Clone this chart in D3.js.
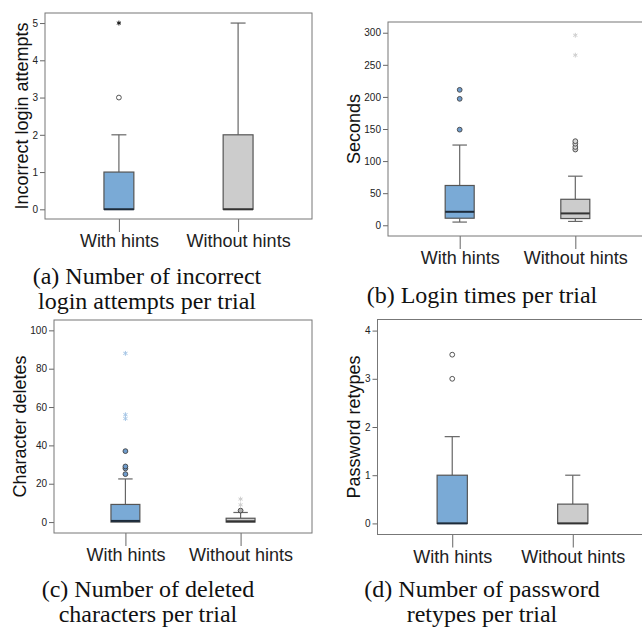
<!DOCTYPE html>
<html>
<head>
<meta charset="utf-8">
<script src="https://cdn.jsdelivr.net/npm/d3@7"></script>
<style>
  html, body { margin: 0; padding: 0; background: #fff; overflow: hidden; }
  svg { display: block; }
  .tick text { font-family: "Liberation Sans", Arial, sans-serif; fill: #222; }
  .caption { font-family: "Liberation Serif", "Times New Roman", serif; font-size: 24px; fill: #111; }
</style>
</head>
<body>
<svg id="fig" width="642" height="629"></svg>
<script>
// Boxplots of login behaviour, with vs. without hints (four panels)

const categories = ["With hints", "Without hints"]

// box stats per group: [lower whisker, q1, median, q3, upper whisker]
const attemptsBoxes = [[0, 0, 0, 1, 2], [0, 0, 0, 2, 5]]
const attemptsOutliers = [[3], []]
const attemptsExtremes = [[5], []]
const attemptsTicks = [0, 1, 2, 3, 4, 5]

const timesBoxes = [[5, 11, 21, 62, 125], [6, 10.5, 18.5, 40.5, 76.5]]
const timesOutliers = [[149, 197, 211], [118, 122, 127, 131]]
const timesExtremes = [[], [265, 296]]
const timesTicks = [0, 50, 100, 150, 200, 250, 300]

const deletesBoxes = [[0, 0, 0.6, 9.2, 22.5], [0, 0, 0.4, 2, 5]]
const deletesOutliers = [[25, 28, 29, 37], [6]]
const deletesExtremes = [[54, 56, 88], [9, 12]]
const deletesTicks = [0, 20, 40, 60, 80, 100]

const retypesBoxes = [[0, 0, 0, 1, 1.8], [0, 0, 0, 0.4, 1]]
const retypesOutliers = [[3, 3.5], []]
const retypesExtremes = [[], []]
const retypesTicks = [0, 1, 2, 3, 4]

const boxFills = ["#7aaad6", "#cccccc"]

const panels = [
  {
    boxes: attemptsBoxes, outliers: attemptsOutliers, extremes: attemptsExtremes, ticks: attemptsTicks,
    domain: [-0.26, 5.27], ylabel: "Incorrect login attempts",
    x: 45, y: 13, w: 267, h: 206, labelX: 22,
    dotFill: ["#fff", "#fff"], starColor: ["#111", "#111"],
    caption: ["(a) Number of incorrect", "login attempts per trial"], capX: 147, capY: [284, 309]
  },
  {
    boxes: timesBoxes, outliers: timesOutliers, extremes: timesExtremes, ticks: timesTicks,
    domain: [-16.7, 316.7], ylabel: "Seconds",
    x: 388, y: 22, w: 259, h: 214, labelX: 354,
    dotFill: ["#6f9ccc", "#d8d8d8"], starColor: ["#b8cfe8", "#cfcfcf"],
    caption: ["(b) Login times per trial"], capX: 482, capY: [303]
  },
  {
    boxes: deletesBoxes, outliers: deletesOutliers, extremes: deletesExtremes, ticks: deletesTicks,
    domain: [-5.7, 105.4], ylabel: "Character deletes",
    x: 54, y: 320, w: 258, h: 213, labelX: 20,
    dotFill: ["#6f9ccc", "#b0b0b0"], starColor: ["#a6c6e6", "#cfcfcf"],
    caption: ["(c) Number of deleted", "characters per trial"], capX: 148, capY: [597, 622]
  },
  {
    boxes: retypesBoxes, outliers: retypesOutliers, extremes: retypesExtremes, ticks: retypesTicks,
    domain: [-0.23, 4.23], ylabel: "Password retypes",
    x: 377.5, y: 319.5, w: 270, h: 215, labelX: 354,
    dotFill: ["#fff", "#fff"], starColor: ["#111", "#111"],
    caption: ["(d) Number of password", "retypes per trial"], capX: 482, capY: [597, 622]
  }
]

const svg = d3.select("#fig")
const star = d3.symbol().type(d3.symbolAsterisk).size(16)

panels.forEach((p) => {
  const g = svg.append("g").attr("transform", `translate(${p.x},${p.y})`)

  const x = d3.scalePoint().domain(categories).range([0, p.w]).padding(0.62)
  const y = d3.scaleLinear().domain(p.domain).range([p.h, 0])
  const bw = p.w * 0.112
  const cw = bw * 0.5

  // y axis (ticks only, frame drawn separately)
  const ya = g.append("g").call(
    d3.axisLeft(y).tickValues(p.ticks).tickSize(5).tickPadding(2).tickFormat(d3.format("d"))
  )
  ya.select(".domain").remove()
  ya.selectAll(".tick line").attr("stroke", "#666")
  ya.selectAll(".tick text").style("font-size", "10px")

  // x axis below frame
  const xa = g.append("g").attr("transform", `translate(0,${p.h})`).call(
    d3.axisBottom(x).tickSize(13).tickPadding(2.5)
  )
  xa.select(".domain").remove()
  xa.selectAll(".tick line").attr("stroke", "#666")
  xa.selectAll(".tick text").style("font-size", "18px").attr("fill", "#111")

  // frame
  g.append("rect")
    .attr("width", p.w).attr("height", p.h)
    .attr("fill", "none").attr("stroke", "#777").attr("stroke-width", 1)

  // y label
  g.append("text")
    .attr("transform", `translate(${p.labelX - p.x},${p.h / 2}) rotate(-90)`)
    .attr("text-anchor", "middle").attr("dy", "0.35em")
    .style("font-family", "Liberation Sans, Arial, sans-serif")
    .style("font-size", "18px").attr("fill", "#111")
    .text(p.ylabel)

  const groups = g.selectAll(".grp").data(categories).join("g")
    .attr("class", "grp")
    .attr("transform", (d) => `translate(${x(d)},0)`)

  groups.each(function (d, i) {
    const el = d3.select(this)
    const [lo, q1, med, q3, hi] = p.boxes[i]
    // whiskers
    if (hi > q3) {
      el.append("line").attr("y1", y(q3)).attr("y2", y(hi)).attr("stroke", "#666").attr("stroke-width", 1.2)
      el.append("line").attr("x1", -cw / 2).attr("x2", cw / 2).attr("y1", y(hi)).attr("y2", y(hi))
        .attr("stroke", "#666").attr("stroke-width", 1.2)
    }
    if (lo < q1) {
      el.append("line").attr("y1", y(q1)).attr("y2", y(lo)).attr("stroke", "#666").attr("stroke-width", 1.2)
      el.append("line").attr("x1", -cw / 2).attr("x2", cw / 2).attr("y1", y(lo)).attr("y2", y(lo))
        .attr("stroke", "#666").attr("stroke-width", 1.2)
    }
    // box
    el.append("rect")
      .attr("x", -bw / 2).attr("width", bw)
      .attr("y", y(q3)).attr("height", Math.max(1, y(q1) - y(q3)))
      .attr("fill", boxFills[i]).attr("stroke", "#555").attr("stroke-width", 1.2)
    el.append("line")
      .attr("x1", -bw / 2).attr("x2", bw / 2).attr("y1", y(med)).attr("y2", y(med))
      .attr("stroke", i === 0 ? "#1d2b3a" : "#333").attr("stroke-width", 2)
    // outliers
    el.selectAll(".out").data(p.outliers[i]).join("circle")
      .attr("class", "out").attr("cy", (v) => y(v)).attr("r", 2.4)
      .attr("fill", p.dotFill[i]).attr("stroke", "#444").attr("stroke-width", 0.9)
    el.selectAll(".ext").data(p.extremes[i]).join("path")
      .attr("class", "ext").attr("d", star)
      .attr("transform", (v) => `translate(0,${y(v)})`)
      .attr("fill", "none").attr("stroke", p.starColor[i]).attr("stroke-width", 1)
  })

  // caption
  svg.selectAll(null).data(p.caption).join("text")
    .attr("class", "caption")
    .attr("x", p.capX).attr("y", (d, k) => p.capY[k])
    .attr("text-anchor", "middle")
    .text((d) => d)
})
</script>
</body>
</html>
